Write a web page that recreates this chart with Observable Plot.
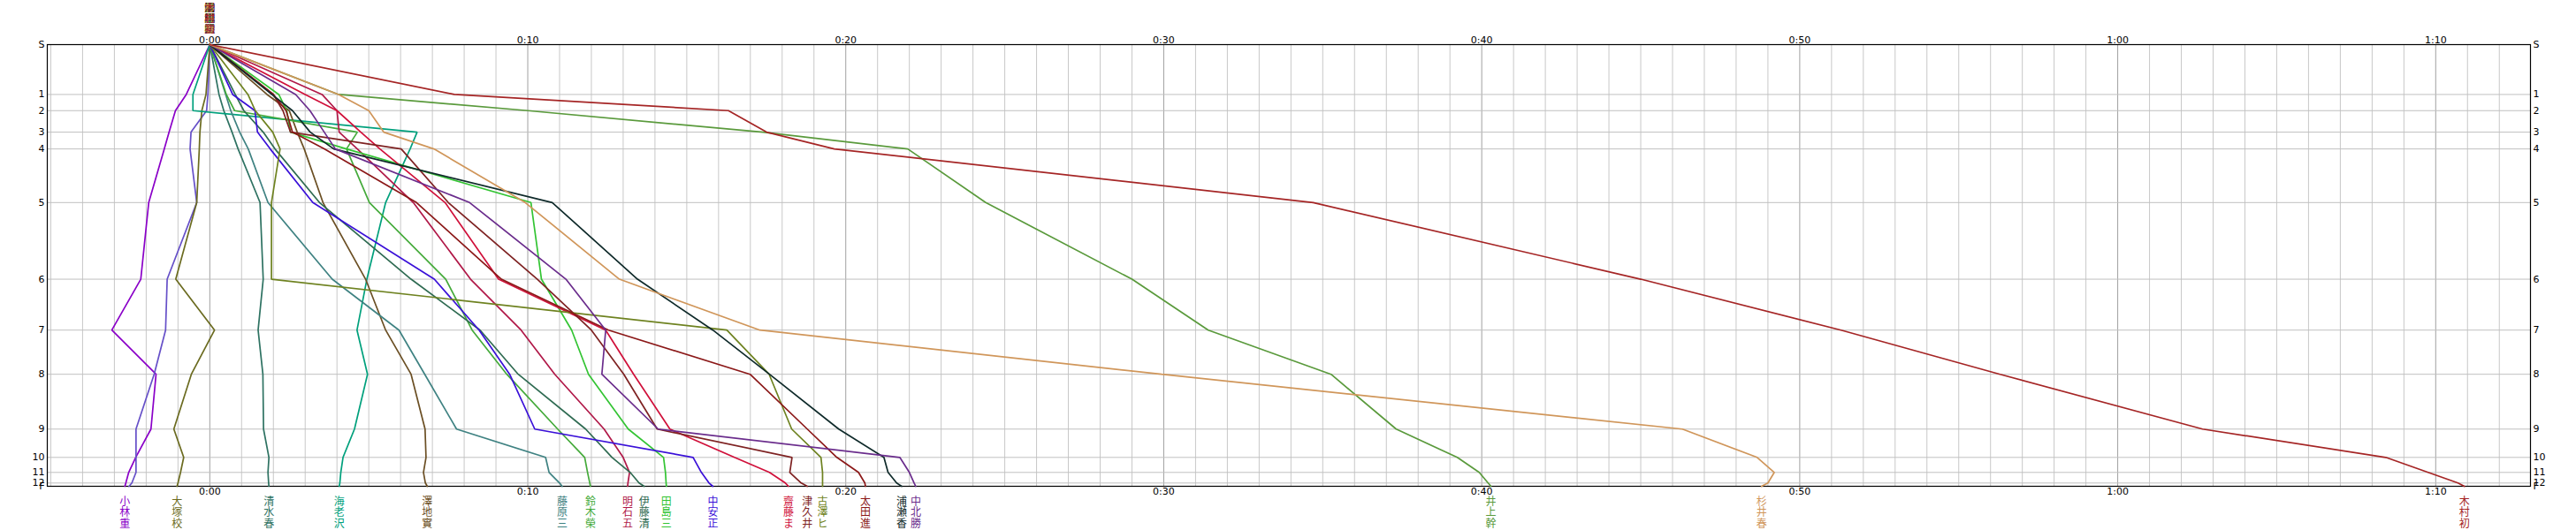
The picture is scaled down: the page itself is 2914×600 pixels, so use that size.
<!DOCTYPE html>
<html><head><meta charset="utf-8">
<script src="https://cdn.jsdelivr.net/npm/d3@7"></script>
<script src="https://cdn.jsdelivr.net/npm/@observablehq/plot@0.6"></script>
<style>
html,body{margin:0;padding:0;background:#fff;}
#chart svg{display:block;overflow:visible;}
</style>
</head><body><div id="chart"></div>
<script>
// Checkpoints (S = start, F = finish) and their course position (0 = start, 100 = finish)
const stations = ["S","1","2","3","4","5","6","7","8","9","10","11","12","F"];
const dist = [0, 11.29, 14.95, 19.82, 23.62, 35.76, 53.11, 64.64, 74.64, 87.05, 93.46, 96.86, 99.26, 100];

// X tick values (minutes) and labels
const xTicks = [0, 10, 20, 30, 40, 50, 60, 70];
const xTickLabels = ["0:00","0:10","0:20","0:30","0:40","0:50","1:00","1:10"];

// Runners, colours and time gap (minutes) at each checkpoint
const names = ["小林重","","大塚校","清水春","海老沢","澤地實","藤原三","鈴木榮","明石五","伊藤清","田島三","中安正","齋藤ま","津久井","古澤ヒ","太田進","浦瀬香","中北勝","井上幹","杉井春","木村初"];
const colors = ["#8a00c8","#6650c8","#6b6b20","#2e7262","#00a07c","#6b4f24","#3f8282","#44aa3a","#b01848","#2f6b52","#33c433","#3a10d8","#d0103a","#7e2222","#6e8220","#8b1818","#0f2a2a","#6a2c8c","#5a9a3c","#d0965a","#a52525"];

const t_kobayashi = [0, -0.74, -1.08, -1.28, -1.43, -1.92, -2.17, -3.08, -1.69, -1.85, -2.33, -2.55, -2.64, -2.67];
const t_slate     = [0, -0.06, -0.10, -0.59, -0.62, -0.41, -1.34, -1.39, -1.75, -2.32, -2.32, -2.32, -2.45, -2.54];
const t_otsuka    = [0, -0.12, -0.25, -0.31, -0.33, -0.41, -1.07, 0.15, -0.58, -1.13, -0.82, -0.92, -1.00, -1.03];
const t_shimizu   = [0, 0.29, 0.44, 0.70, 0.89, 1.58, 1.68, 1.52, 1.67, 1.69, 1.86, 1.83, 1.85, 1.86];
const t_ebisawa   = [0, -0.53, -0.53, 6.52, 6.30, 5.53, 4.94, 4.63, 4.96, 4.55, 4.19, 4.12, 4.09, 4.07];
const t_sawachi   = [0, 1.80, 2.50, 2.75, 2.97, 3.56, 4.90, 5.53, 6.33, 6.77, 6.80, 6.72, 6.78, 6.84];
const t_fujiwara  = [0, 0.50, 0.66, 0.94, 1.21, 1.83, 3.85, 5.95, 6.76, 7.76, 10.56, 10.67, 11.00, 11.08];
const t_suzuki    = [0, 0.52, 0.78, 4.64, 4.30, 5.02, 7.42, 8.25, 9.34, 10.94, 11.79, 11.88, 11.95, 11.97];
const t_akashi    = [0, 3.53, 4.00, 4.07, 4.64, 6.40, 8.20, 9.79, 10.85, 12.40, 13.00, 13.20, 13.15, 13.14];
const t_ito       = [0, 0.80, 1.07, 1.68, 2.05, 3.45, 6.33, 8.50, 9.70, 11.82, 12.65, 13.22, 13.50, 13.66];
const t_tajima    = [0, 2.17, 2.42, 2.54, 4.30, 10.10, 10.43, 11.38, 11.91, 13.16, 14.27, 14.33, 14.35, 14.36];
const t_nakayasu  = [0, 0.72, 1.42, 1.50, 1.90, 3.24, 7.06, 8.47, 9.43, 10.22, 15.20, 15.46, 15.70, 15.82];
const t_saito     = [0, 3.00, 4.00, 4.75, 5.35, 7.40, 9.08, 12.45, 13.33, 14.47, 16.50, 17.60, 18.10, 18.20];
const t_tsukui    = [0, 2.00, 2.30, 2.54, 6.02, 7.50, 10.30, 12.00, 13.02, 14.07, 18.31, 18.24, 18.60, 18.79];
const t_furusawa  = [0, 1.20, 1.43, 1.98, 2.21, 1.94, 1.94, 16.26, 17.59, 18.30, 19.22, 19.27, 19.27, 19.27];
const t_ota       = [0, 2.00, 2.40, 2.60, 3.60, 6.50, 9.17, 12.54, 16.99, 18.79, 19.72, 20.40, 20.60, 20.62];
const t_urase     = [0, 1.95, 2.60, 3.16, 3.90, 10.77, 13.45, 15.82, 17.60, 19.78, 21.20, 21.33, 21.60, 21.76];
const t_nakakita  = [0, 2.70, 3.15, 3.60, 3.95, 8.17, 11.20, 12.45, 12.33, 14.10, 21.70, 22.00, 22.15, 22.20];
const t_inoue     = [0, 4.05, 10.00, 17.40, 21.95, 24.40, 29.00, 31.40, 35.26, 37.31, 39.23, 39.92, 40.20, 40.29];
const t_sugii     = [0, 4.05, 5.00, 5.47, 7.05, 9.92, 12.88, 17.30, 29.93, 46.31, 48.66, 49.20, 49.00, 48.80];
const t_kimura    = [0, 7.69, 16.31, 17.51, 19.64, 34.70, 45.00, 51.30, 56.30, 62.67, 68.43, 69.76, 70.70, 70.90];

const series = [t_kobayashi, t_slate, t_otsuka, t_shimizu, t_ebisawa, t_sawachi, t_fujiwara, t_suzuki, t_akashi, t_ito, t_tajima, t_nakayasu, t_saito, t_tsukui, t_furusawa, t_ota, t_urase, t_nakakita, t_inoue, t_sugii, t_kimura];

// Build tables
const rows = [];
series.forEach((s, i) => s.forEach((t, j) => rows.push({runner: i, name: names[i], color: colors[i], t, d: dist[j]})));
const runners = names.map((n, i) => ({name: n, color: colors[i], t: series[i][series[i].length - 1]}));

const minutes = d3.range(-5, 73);
const minorMin = minutes.filter(m => m % 10 !== 0);
const majorMin = minutes.filter(m => m % 10 === 0);
const inner = dist.slice(1, -1);
const vert = s => s.split("").join("\n");

const font = "'DejaVu Sans', 'Noto Sans CJK JP', sans-serif";
const cjk = "'Noto Sans CJK JP', sans-serif";

const chart = Plot.plot({
  width: 2914, height: 600,
  marginLeft: 53, marginRight: 52, marginTop: 50, marginBottom: 50,
  style: {fontFamily: font, fontSize: "11px", background: "#fff"},
  x: {domain: [-5.11, 72.98], label: null},
  y: {domain: [0, 100], reverse: true, label: null},
  color: {type: "identity"},
  marks: [
    Plot.ruleX(minorMin, {stroke: "#c8c8c8", strokeWidth: 1}),
    Plot.ruleX(majorMin, {stroke: "#a0a0a0", strokeWidth: 1}),
    Plot.ruleY(inner, {stroke: "#c0c0c0", strokeWidth: 1}),
    Plot.frame({stroke: "#000", strokeWidth: 1.2}),
    Plot.axisX({anchor: "top", label: null, ticks: xTicks, tickFormat: (d, i) => xTickLabels[i], tickSize: 0, tickPadding: 2, fontSize: 11, fill: "#000"}),
    Plot.axisX({anchor: "bottom", label: null, ticks: xTicks, tickFormat: (d, i) => xTickLabels[i], tickSize: 0, tickPadding: 2, fontSize: 11, fill: "#000"}),
    Plot.axisY({anchor: "left", label: null, ticks: dist, tickFormat: (d, i) => stations[i], tickSize: 0, tickPadding: 3, fontSize: 11, fill: "#000"}),
    Plot.axisY({anchor: "right", label: null, ticks: dist, tickFormat: (d, i) => stations[i], tickSize: 0, tickPadding: 3, fontSize: 11, fill: "#000"}),
    Plot.line(rows, {x: "t", y: "d", z: "runner", stroke: "color", strokeWidth: 1.7, strokeLinejoin: "miter", curve: "linear"}),
    Plot.text(runners, {x: () => 0, y: () => 0, text: d => vert(d.name), fill: "color", lineAnchor: "top", dy: -46, fontSize: 11.5, lineHeight: 1.05, fontFamily: cjk}),
    Plot.text(runners, {x: "t", y: () => 100, text: d => vert(d.name), fill: "color", lineAnchor: "top", dy: 12, fontSize: 12, lineHeight: 1.06, fontFamily: cjk})
  ]
});
document.getElementById("chart").appendChild(chart);
</script>
</body></html>
